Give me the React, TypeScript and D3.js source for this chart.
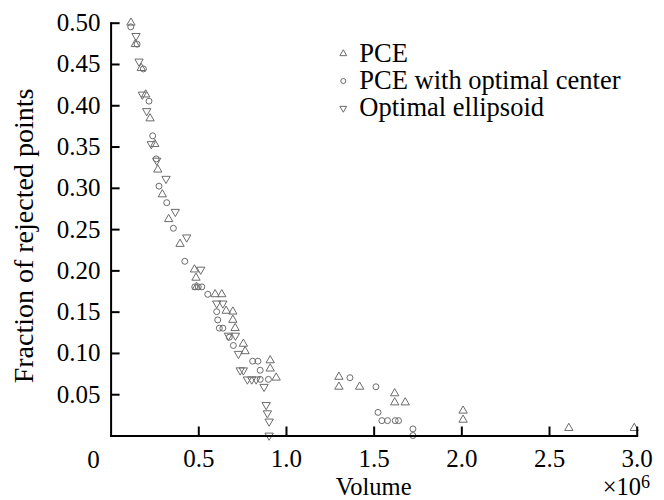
import React, { useEffect, useRef } from 'react';
import * as d3 from 'd3';

// [volume (x10^6), fraction of rejected points]
const pce: [number, number][] = [
	[0.116, 0.5], [0.141, 0.474], [0.175, 0.445], [0.2, 0.413], [0.225, 0.384],
	[0.252, 0.353], [0.269, 0.322], [0.295, 0.292], [0.331, 0.262], [0.396, 0.232],
	[0.478, 0.201], [0.487, 0.191], [0.49, 0.18], [0.596, 0.171], [0.634, 0.171],
	[0.659, 0.151], [0.697, 0.15], [0.697, 0.14], [0.71, 0.13], [0.757, 0.111],
	[0.767, 0.102], [0.91, 0.091], [0.91, 0.081], [0.944, 0.07], [1.302, 0.071],
	[1.302, 0.059], [1.42, 0.059], [1.62, 0.051], [1.62, 0.04], [1.68, 0.04],
	[2.01, 0.03], [2.01, 0.019], [2.613, 0.009], [2.986, 0.009]
];

const pceCenter: [number, number][] = [
	[0.115, 0.495], [0.151, 0.474], [0.187, 0.444], [0.219, 0.405], [0.24, 0.363],
	[0.26, 0.335], [0.276, 0.302], [0.32, 0.282], [0.358, 0.251], [0.423, 0.211],
	[0.48, 0.18], [0.5, 0.18], [0.52, 0.18], [0.554, 0.171], [0.605, 0.15],
	[0.611, 0.14], [0.62, 0.13], [0.64, 0.13], [0.677, 0.119], [0.7, 0.109],
	[0.81, 0.09], [0.84, 0.09], [0.853, 0.079], [0.853, 0.068], [0.9, 0.068],
	[1.365, 0.07], [1.513, 0.059], [1.525, 0.028], [1.547, 0.018], [1.579, 0.018],
	[1.623, 0.018], [1.642, 0.018], [1.724, 0.008], [1.724, 0.0]
];

const ellipsoid: [number, number][] = [
	[0.145, 0.484], [0.162, 0.453], [0.181, 0.413], [0.206, 0.393], [0.232, 0.353],
	[0.263, 0.333], [0.316, 0.311], [0.369, 0.271], [0.434, 0.24], [0.514, 0.201],
	[0.605, 0.16], [0.64, 0.16], [0.672, 0.121], [0.712, 0.121], [0.729, 0.099],
	[0.739, 0.079], [0.757, 0.079], [0.78, 0.068], [0.805, 0.068], [0.83, 0.068],
	[0.875, 0.059], [0.887, 0.037], [0.894, 0.027], [0.904, 0.017], [0.904, 0.0]
];

const xTicks = [0.5, 1.0, 1.5, 2.0, 2.5, 3.0];
const yTicks = [0.05, 0.1, 0.15, 0.2, 0.25, 0.3, 0.35, 0.4, 0.45, 0.5];
const legendLabels = ['PCE', 'PCE with optimal center', 'Optimal ellipsoid'];

const width = 664;
const height = 500;
const margin = { top: 22.7, right: 27.3, bottom: 64.5, left: 110.6 };
const font = '"Liberation Serif", "Times New Roman", serif';
const markColor = '#6b6b6b';

export default function App() {
	const ref = useRef<SVGSVGElement>(null);

	useEffect(() => {
		const svg = d3.select(ref.current);
		svg.selectAll('*').remove();

		const x = d3.scaleLinear().domain([0, 3.0]).range([margin.left, width - margin.right]);
		const y = d3.scaleLinear().domain([0, 0.5]).range([height - margin.bottom, margin.top]);

		const triUp = d3.symbol(d3.symbolTriangle, 30)();
		const circ = d3.symbol(d3.symbolCircle, 28)();

		const series = [
			{ data: pce, path: triUp, rot: 0 },
			{ data: pceCenter, path: circ, rot: 0 },
			{ data: ellipsoid, path: triUp, rot: 180 }
		];

		series.forEach(s => {
			svg.append('g')
				.selectAll('path')
				.data(s.data)
				.enter()
				.append('path')
				.attr('d', s.path)
				.attr('transform', d => `translate(${x(d[0])},${y(d[1])}) rotate(${s.rot})`)
				.attr('fill', 'none')
				.attr('stroke', markColor)
				.attr('stroke-width', 1);
		});

		// axes, ticks pointing inward
		const xAxis = d3.axisBottom(x).tickValues(xTicks).tickSizeInner(-9).tickSizeOuter(0)
			.tickPadding(14).tickFormat(d3.format('.1f'));
		const yAxis = d3.axisLeft(y).tickValues(yTicks).tickSizeInner(-9).tickSizeOuter(0)
			.tickPadding(10).tickFormat(d3.format('.2f'));

		const gx = svg.append('g').attr('transform', `translate(0,${y(0)})`).call(xAxis);
		const gy = svg.append('g').attr('transform', `translate(${x(0)},0)`).call(yAxis);

		[gx, gy].forEach(g => {
			g.select('.domain').attr('stroke-width', 2).attr('stroke-linecap', 'square');
			g.selectAll('.tick line').attr('stroke-width', 2);
			g.selectAll('.tick text').attr('font-family', font).attr('font-size', 25).attr('fill', '#000');
		});

		// shared origin label
		svg.append('text')
			.attr('x', x(0) - 17)
			.attr('y', y(0) + 32)
			.attr('text-anchor', 'middle')
			.attr('font-family', font)
			.attr('font-size', 25)
			.text('0');

		svg.append('text')
			.attr('x', (x(0) + x(3)) / 2)
			.attr('y', 494.5)
			.attr('text-anchor', 'middle')
			.attr('font-family', font)
			.attr('font-size', 24.5)
			.text('Volume');

		const mult = svg.append('text')
			.attr('x', 650)
			.attr('y', 494.5)
			.attr('text-anchor', 'end')
			.attr('font-family', font)
			.attr('font-size', 24.5);
		mult.append('tspan').text('\u00d710');
		mult.append('tspan').attr('dy', -7).attr('font-size', 18).text('6');

		svg.append('text')
			.attr('transform', `translate(33,236) rotate(-90)`)
			.attr('text-anchor', 'middle')
			.attr('font-family', font)
			.attr('font-size', 28)
			.text('Fraction of rejected points');

		// legend
		const legend = svg.append('g');
		legendLabels.forEach((label, i) => {
			const ly = 61.7 + i * 27.3;
			legend.append('path')
				.attr('d', i === 1 ? d3.symbol(d3.symbolCircle, 20)() : d3.symbol(d3.symbolTriangle, 20)())
				.attr('transform', `translate(343.3,${ly - 8}) rotate(${i === 2 ? 180 : 0})`)
				.attr('fill', 'none')
				.attr('stroke', markColor)
				.attr('stroke-width', 1);
			legend.append('text')
				.attr('x', 359.3)
				.attr('y', ly)
				.attr('font-family', font)
				.attr('font-size', 26.5)
				.text(label);
		});
	}, []);

	return (
		<svg ref={ref} width={width} height={height}
			style={{ position: 'absolute', left: 0, top: 0, background: '#fff' }} />
	);
}
